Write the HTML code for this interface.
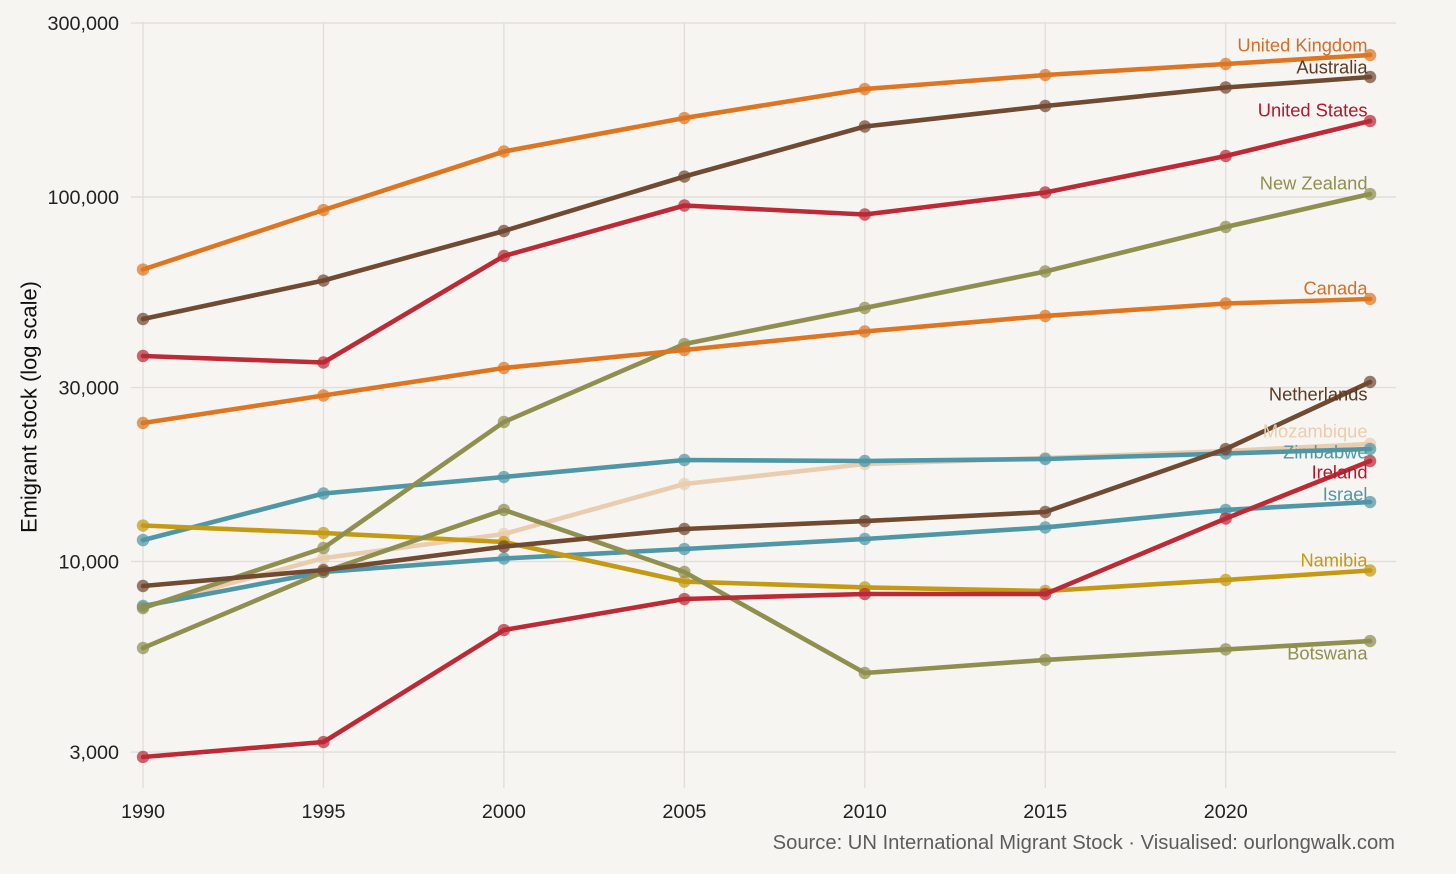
<!DOCTYPE html>
<html lang="en">
<head>
<meta charset="utf-8">
<title>Emigrant stock by country</title>
<style>
html,body{margin:0;padding:0;background:#f7f5f2;}
svg{display:block;font-family:"Liberation Sans",Arial,sans-serif;}
</style>
</head>
<body>
<svg id="chart" width="1456" height="874" viewBox="0 0 1456 874" xmlns="http://www.w3.org/2000/svg">
<rect x="0" y="0" width="1456" height="874" fill="#f7f5f2"/>
<text transform="translate(36.5 407) rotate(-90)" text-anchor="middle" font-size="21.9" fill="#111">Emigrant stock (log scale)</text>
<text x="1395" y="849" text-anchor="end" font-size="20.2" fill="#5c5c5c">Source: UN International Migrant Stock · Visualised: ourlongwalk.com</text>
</svg>
<script>
const years = [1990, 1995, 2000, 2005, 2010, 2015, 2020, 2024];
const xTicks = [1990, 1995, 2000, 2005, 2010, 2015, 2020];
const yTicks = [3000, 10000, 30000, 100000, 300000];

const mozambique = [7500, 10220, 11900, 16320, 18510, 19230, 20100, 21010];
const zimbabwe = [11450, 15370, 17050, 18990, 18870, 19110, 19780, 20350];
const israel = [7550, 9360, 10190, 10820, 11530, 12400, 13850, 14560];
const namibia = [12550, 11970, 11310, 8810, 8490, 8300, 8900, 9450];
const botswana = [5790, 9360, 13850, 9360, 4945, 5370, 5740, 6050];
const newZealand = [7450, 10890, 24140, 39500, 49600, 62470, 82750, 101900];
const ireland = [2909, 3197, 6486, 7890, 8143, 8143, 13120, 18870];
const unitedStates = [36630, 35160, 68900, 94800, 89540, 102900, 129600, 161600];
const netherlands = [8566, 9478, 10990, 12280, 12910, 13670, 20350, 31080];
const australia = [46270, 59000, 80690, 113800, 156100, 177700, 199700, 213400];
const canada = [23990, 28540, 33950, 38040, 42760, 47170, 51030, 52500];
const unitedKingdom = [63250, 92100, 133300, 164700, 197800, 216100, 231700, 245200];

const series = [
  {name: 'Mozambique', values: mozambique, line: '#e9cdae', text: '#e9cdae', nudge: -13},
  {name: 'Zimbabwe', values: zimbabwe, line: '#4f97a6', text: '#4f97a6', nudge: 3},
  {name: 'Israel', values: israel, line: '#4f97a6', text: '#4f97a6', nudge: -8},
  {name: 'Namibia', values: namibia, line: '#c49a14', text: '#c49a14', nudge: -10.5},
  {name: 'Botswana', values: botswana, line: '#8f8f50', text: '#8f8f50', nudge: 12},
  {name: 'New Zealand', values: newZealand, line: '#8f8f50', text: '#8f8f50', nudge: -11},
  {name: 'Ireland', values: ireland, line: '#bc2a36', text: '#b2182b', nudge: 11},
  {name: 'United States', values: unitedStates, line: '#bc2a36', text: '#b2182b', nudge: -11},
  {name: 'Netherlands', values: netherlands, line: '#714a32', text: '#5c3a26', nudge: 12},
  {name: 'Australia', values: australia, line: '#714a32', text: '#5c3a26', nudge: -10},
  {name: 'Canada', values: canada, line: '#dd7622', text: '#d2702a', nudge: -11},
  {name: 'United Kingdom', values: unitedKingdom, line: '#dd7622', text: '#d2702a', nudge: -10}
];

const NS = 'http://www.w3.org/2000/svg';
const svg = document.getElementById('chart');
const xScale = function (year) { return 143 + (year - 1990) * 36.09; };
const yScale = function (value) { return 561.5 - (Math.log10(value) - 4) * 364.5; };
const slug = function (s) { return s.toLowerCase().replace(/ /g, '-'); };
const make = function (tag, attrs, parent) {
  const el = document.createElementNS(NS, tag);
  Object.keys(attrs).forEach(function (k) { el.setAttribute(k, attrs[k]); });
  (parent || svg).appendChild(el);
  return el;
};

yTicks.forEach(function (t) {
  const y = yScale(t);
  const g = make('line', {x1: 131, x2: 1396, y1: y, y2: y, stroke: '#e1dedb', 'stroke-width': 1.4});
  
  
  const l = make('text', {x: 119, y: y + 7, 'text-anchor': 'end', 'font-size': 19.8, fill: '#222'});
  
  
  l.textContent = t.toLocaleString('en-US');
});

xTicks.forEach(function (t) {
  const x = xScale(t);
  const g = make('line', {x1: x, x2: x, y1: 22, y2: 788, stroke: '#e1dedb', 'stroke-width': 1.4});
  
  
  const l = make('text', {x: x, y: 818, 'text-anchor': 'middle', 'font-size': 19.8, fill: '#222'});
  
  
  l.textContent = t;
});

series.forEach(function (s) {
  const d = s.values.map(function (v, i) {
    return (i ? 'L' : 'M') + xScale(years[i]).toFixed(1) + ' ' + yScale(v).toFixed(1);
  }).join(' ');
  const p = make('path', {d: d, fill: 'none', stroke: s.line, 'stroke-width': 4.6, 'stroke-linejoin': 'round', 'stroke-linecap': 'round'});
  
  
  s.values.forEach(function (v, i) {
    const c = make('circle', {cx: xScale(years[i]), cy: yScale(v), r: 6.2, fill: s.line, 'fill-opacity': 0.72, stroke: 'none'});
    
    
  });
});

series.forEach(function (s) {
  const last = s.values[s.values.length - 1];
  const t = make('text', {x: 1367.5, y: yScale(last) + s.nudge + 6.3, 'text-anchor': 'end', 'font-size': 18.3, fill: s.text});
  
  
  t.textContent = s.name;
});
</script>
</body>
</html>
